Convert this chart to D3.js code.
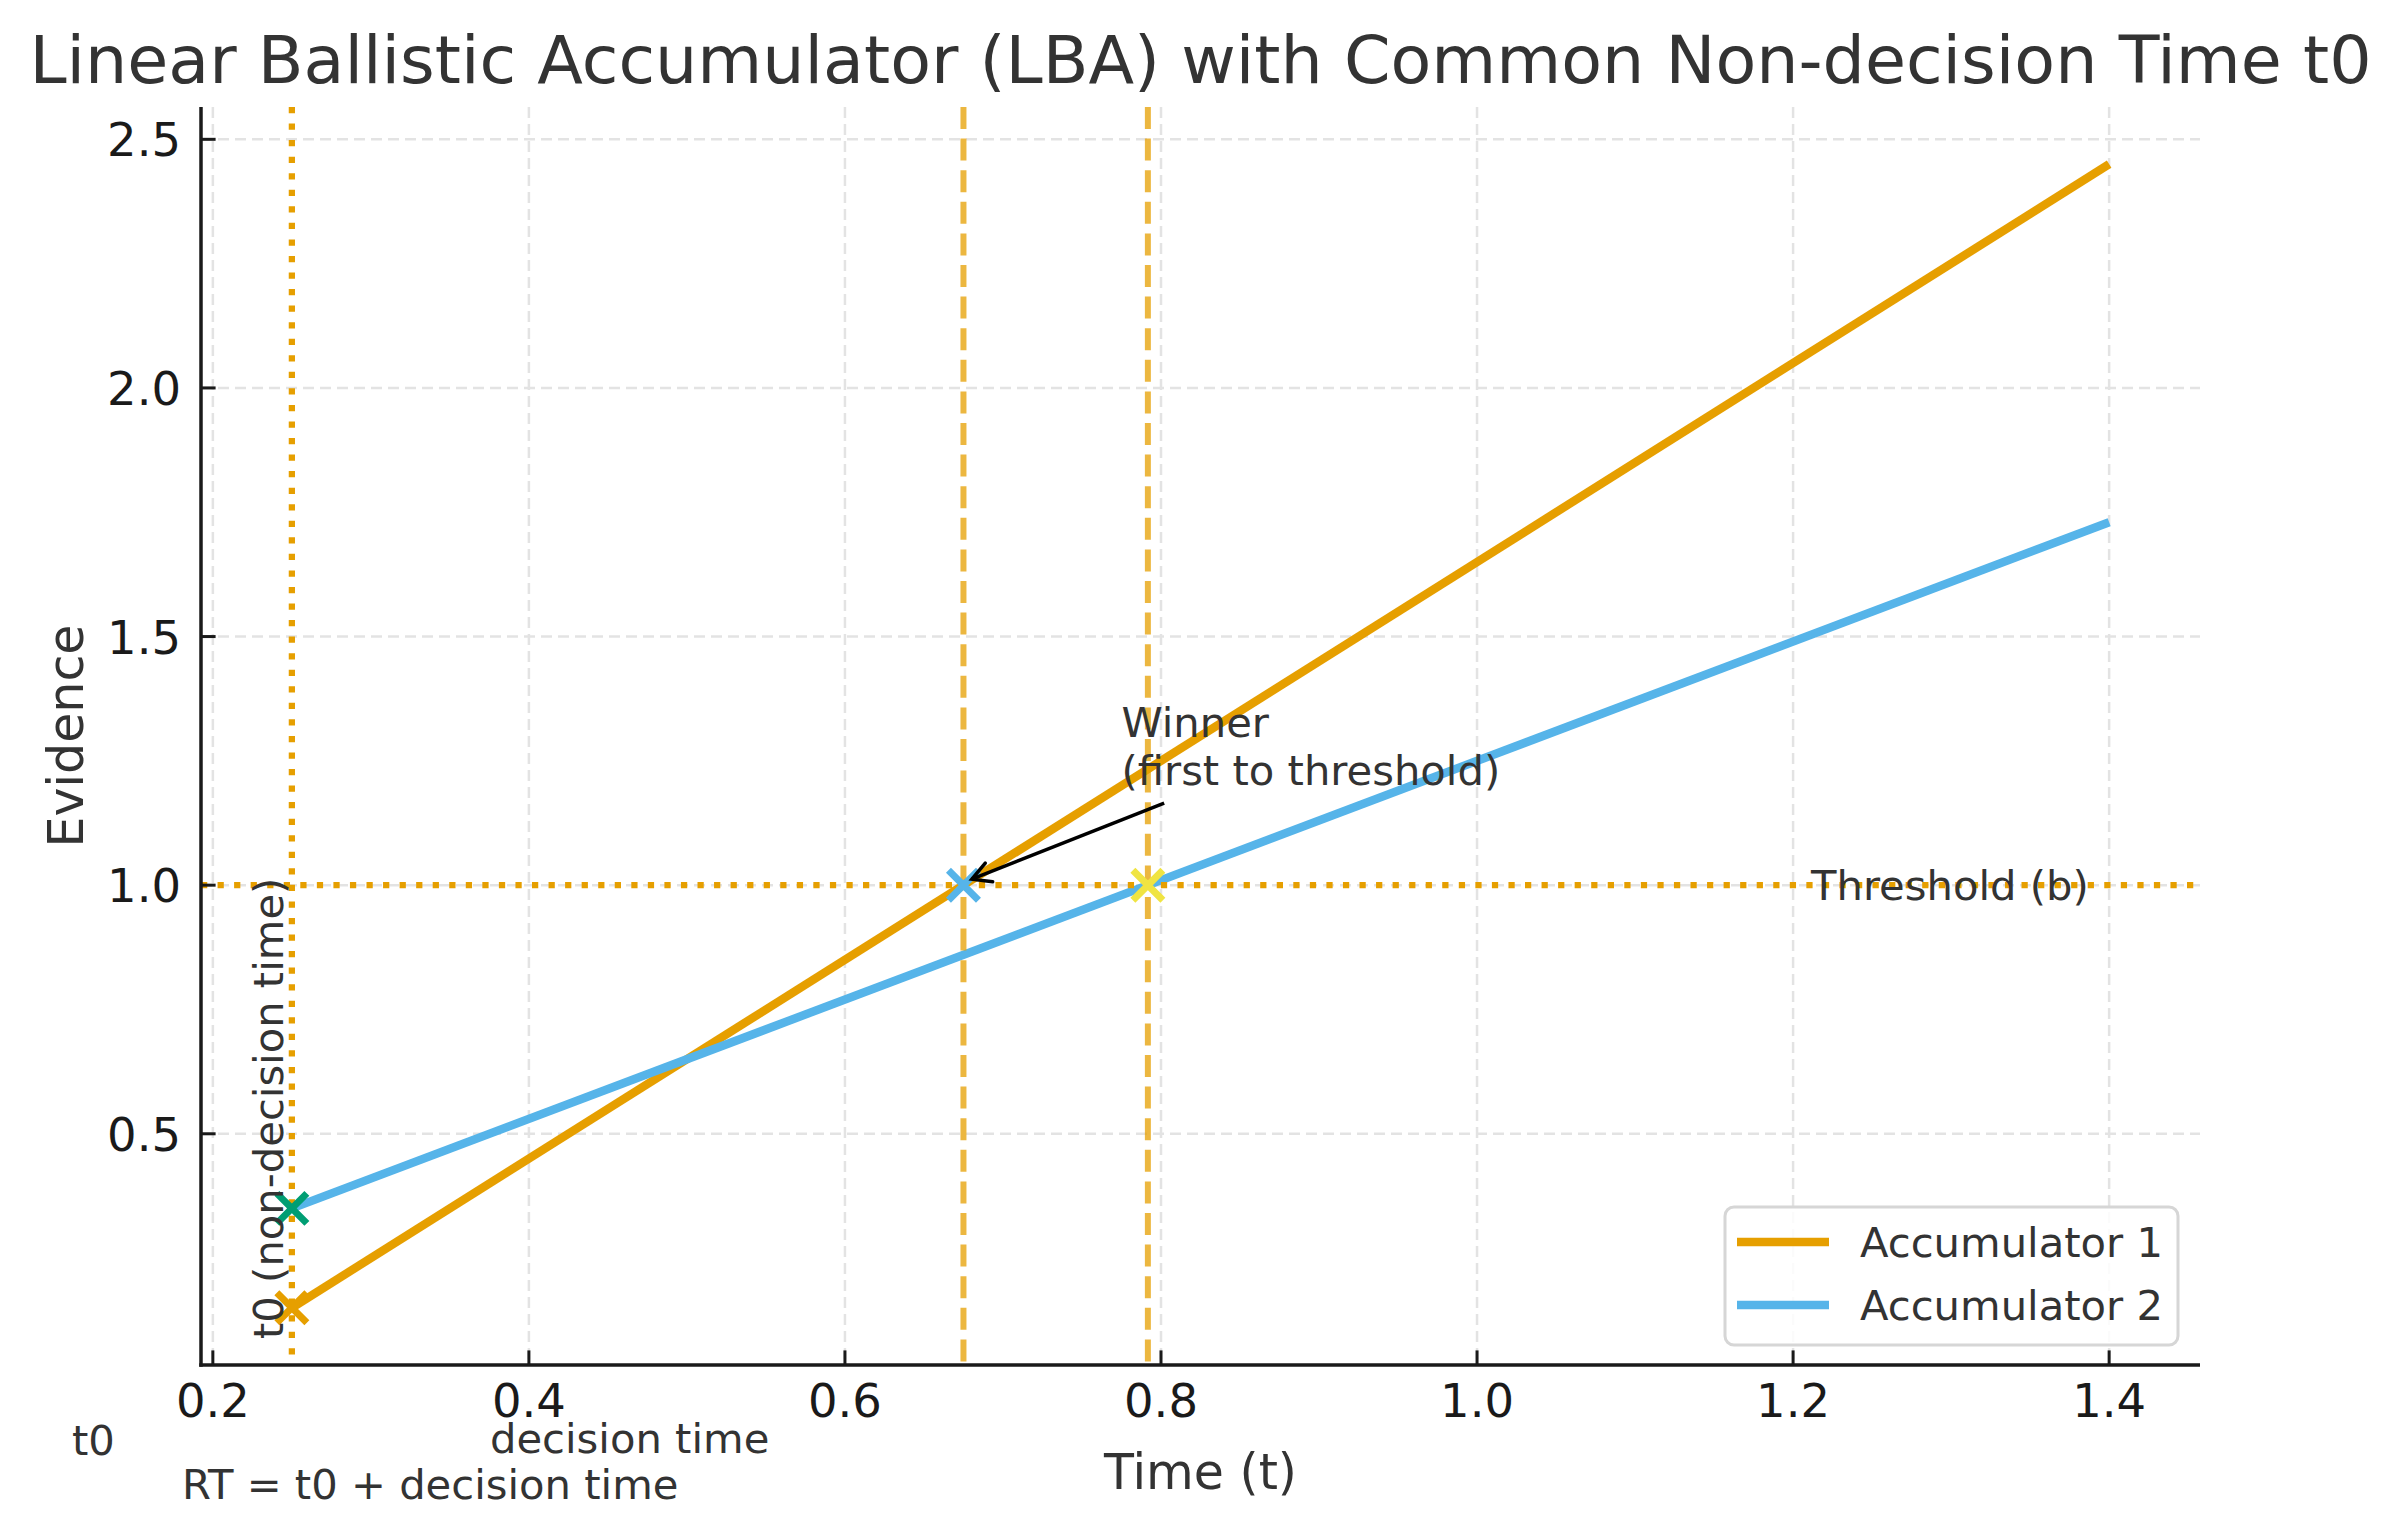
<!DOCTYPE html>
<html>
<head>
<meta charset="utf-8">
<script src="https://cdn.jsdelivr.net/npm/d3@7"></script>
<style>
  body { margin: 0; background: #fff; }
  text { font-family: "DejaVu Sans", sans-serif; }
</style>
</head>
<body>
<script>
// chart data
const time = [0.25, 1.4];
const acc1 = [0.15, 2.45];
const acc2 = [0.35, 1.73];
const t0 = 0.25;
const threshold = 1.0;
const hitTimes = [0.675, 0.7917];
const xTicks = [0.2, 0.4, 0.6, 0.8, 1.0, 1.2, 1.4];
const yTicks = [0.5, 1.0, 1.5, 2.0, 2.5];
const seriesNames = ["Accumulator 1", "Accumulator 2"];
const seriesColors = ["#E69F00", "#56B4E9"];

const W = 2398, H = 1535;
const pLeft = 201, pRight = 2200, pTop = 107, pBottom = 1365;

const svg = d3.select("body").append("svg")
    .attr("width", W)
    .attr("height", H);

const x = d3.scaleLinear().domain([0.1925, 1.4575]).range([pLeft, pRight]);
const y = d3.scaleLinear().domain([0.035, 2.565]).range([pBottom, pTop]);

// grid
svg.append("g").selectAll("line").data(xTicks).enter().append("line")
    .attr("x1", d => x(d)).attr("x2", d => x(d))
    .attr("y1", pTop).attr("y2", pBottom)
    .attr("stroke", "#e3e3e3").attr("stroke-width", 2.5)
    .attr("stroke-dasharray", "11,6");
svg.append("g").selectAll("line").data(yTicks).enter().append("line")
    .attr("x1", pLeft).attr("x2", pRight)
    .attr("y1", d => y(d)).attr("y2", d => y(d))
    .attr("stroke", "#e3e3e3").attr("stroke-width", 2.5)
    .attr("stroke-dasharray", "11,6");

// accumulator lines
const line = d3.line().x(d => x(d[0])).y(d => y(d[1]));
[acc1, acc2].forEach((s, i) => {
    svg.append("path")
        .datum(time.map((t, j) => [t, s[j]]))
        .attr("d", line)
        .attr("fill", "none")
        .attr("stroke", seriesColors[i])
        .attr("stroke-width", 8.5);
});

// threshold and t0 reference lines
svg.append("line")
    .attr("x1", pLeft).attr("x2", pRight)
    .attr("y1", y(threshold)).attr("y2", y(threshold))
    .attr("stroke", "#E69F00").attr("stroke-width", 6.25)
    .attr("stroke-dasharray", "6.25,10.3");
svg.append("line")
    .attr("x1", x(t0)).attr("x2", x(t0))
    .attr("y1", pTop).attr("y2", pBottom)
    .attr("stroke", "#E69F00").attr("stroke-width", 6.25)
    .attr("stroke-dasharray", "6.25,10.3");
svg.append("g").selectAll("line").data(hitTimes).enter().append("line")
    .attr("x1", d => x(d)).attr("x2", d => x(d))
    .attr("y1", pTop).attr("y2", pBottom)
    .attr("stroke", "#E69F00").attr("stroke-opacity", 0.75)
    .attr("stroke-width", 6)
    .attr("stroke-dasharray", "22,9.6");

// x markers
const marks = [
    [t0, acc1[0], "#E69F00"],
    [t0, acc2[0], "#009E73"],
    [hitTimes[0], threshold, "#56B4E9"],
    [hitTimes[1], threshold, "#F0E442"]
];
const r = 15;
marks.forEach(m => {
    const cx = x(m[0]), cy = y(m[1]);
    svg.append("path")
        .attr("d", `M${cx - r},${cy - r}L${cx + r},${cy + r}M${cx - r},${cy + r}L${cx + r},${cy - r}`)
        .attr("stroke", m[2]).attr("stroke-width", 7).attr("fill", "none");
});

// spines
svg.append("line").attr("x1", pLeft).attr("x2", pLeft).attr("y1", pTop).attr("y2", pBottom + 1.75)
    .attr("stroke", "#1a1a1a").attr("stroke-width", 3.5);
svg.append("line").attr("x1", pLeft - 1.75).attr("x2", pRight).attr("y1", pBottom).attr("y2", pBottom)
    .attr("stroke", "#1a1a1a").attr("stroke-width", 3.5);

// ticks (inward)
svg.append("g").selectAll("line").data(xTicks).enter().append("line")
    .attr("x1", d => x(d)).attr("x2", d => x(d))
    .attr("y1", pBottom).attr("y2", pBottom - 14.6)
    .attr("stroke", "#1a1a1a").attr("stroke-width", 3);
svg.append("g").selectAll("line").data(yTicks).enter().append("line")
    .attr("x1", pLeft).attr("x2", pLeft + 14.6)
    .attr("y1", d => y(d)).attr("y2", d => y(d))
    .attr("stroke", "#1a1a1a").attr("stroke-width", 3);

svg.append("g").selectAll("text").data(xTicks).enter().append("text")
    .attr("x", d => x(d)).attr("y", 1417)
    .attr("text-anchor", "middle")
    .attr("font-size", 46.5).attr("fill", "#1a1a1a")
    .text(d => d.toFixed(1));
svg.append("g").selectAll("text").data(yTicks).enter().append("text")
    .attr("x", 181).attr("y", d => y(d) + 17)
    .attr("text-anchor", "end")
    .attr("font-size", 46.5).attr("fill", "#1a1a1a")
    .text(d => d.toFixed(1));

// title and axis labels
svg.append("text")
    .attr("x", (pLeft + pRight) / 2).attr("y", 83)
    .attr("text-anchor", "middle")
    .attr("font-size", 66.7).attr("fill", "#333")
    .text("Linear Ballistic Accumulator (LBA) with Common Non-decision Time t0");
svg.append("text")
    .attr("x", (pLeft + pRight) / 2).attr("y", 1489)
    .attr("text-anchor", "middle")
    .attr("font-size", 49).attr("fill", "#333")
    .text("Time (t)");
svg.append("text")
    .attr("transform", `translate(83,${(pTop + pBottom) / 2}) rotate(-90)`)
    .attr("text-anchor", "middle")
    .attr("font-size", 49).attr("fill", "#333")
    .text("Evidence");

// annotations
const fs = 41.7;
svg.append("text").attr("x", 1811).attr("y", y(threshold) + 15)
    .attr("font-size", fs).attr("fill", "#333").text("Threshold (b)");

svg.append("text").attr("x", x(0.775)).attr("y", 737)
    .attr("font-size", fs).attr("fill", "#333").text("Winner");
svg.append("text").attr("x", x(0.775)).attr("y", 785)
    .attr("font-size", fs).attr("fill", "#333").text("(first to threshold)");

const ax0 = x(0.802), ay0 = y(1.165), ax1 = x(0.6803), ay1 = y(1.012);
svg.append("line").attr("x1", ax0).attr("y1", ay0).attr("x2", ax1).attr("y2", ay1)
    .attr("stroke", "#000").attr("stroke-width", 3.5);
const ang = Math.atan2(ay1 - ay0, ax1 - ax0), hl = 21;
svg.append("path")
    .attr("d", `M${ax1 - hl * Math.cos(ang - 0.5)},${ay1 - hl * Math.sin(ang - 0.5)}L${ax1},${ay1}L${ax1 - hl * Math.cos(ang + 0.5)},${ay1 - hl * Math.sin(ang + 0.5)}`)
    .attr("stroke", "#000").attr("stroke-width", 3.5).attr("fill", "none")
    .attr("stroke-linecap", "round");

svg.append("text")
    .attr("transform", "translate(283,1339) rotate(-90)")
    .attr("font-size", fs).attr("fill", "#333")
    .text("t0 (non-decision time)");

svg.append("text").attr("x", 72).attr("y", 1455)
    .attr("font-size", fs).attr("fill", "#333").text("t0");
svg.append("text").attr("x", 490).attr("y", 1453)
    .attr("font-size", fs).attr("fill", "#333").text("decision time");
svg.append("text").attr("x", 182).attr("y", 1499)
    .attr("font-size", fs).attr("fill", "#333").text("RT = t0 + decision time");

// legend
const lg = svg.append("g");
lg.append("rect")
    .attr("x", 1725).attr("y", 1207).attr("width", 453).attr("height", 138)
    .attr("rx", 9).attr("fill", "#fff").attr("fill-opacity", 0.85)
    .attr("stroke", "#d6d6d6").attr("stroke-width", 3);
seriesNames.forEach((n, i) => {
    const ly = 1242 + i * 63;
    lg.append("line").attr("x1", 1737).attr("x2", 1829).attr("y1", ly).attr("y2", ly)
        .attr("stroke", seriesColors[i]).attr("stroke-width", 8.5);
    lg.append("text").attr("x", 1860).attr("y", ly + 15)
        .attr("font-size", fs).attr("fill", "#333").text(n);
});
</script>
</body>
</html>
